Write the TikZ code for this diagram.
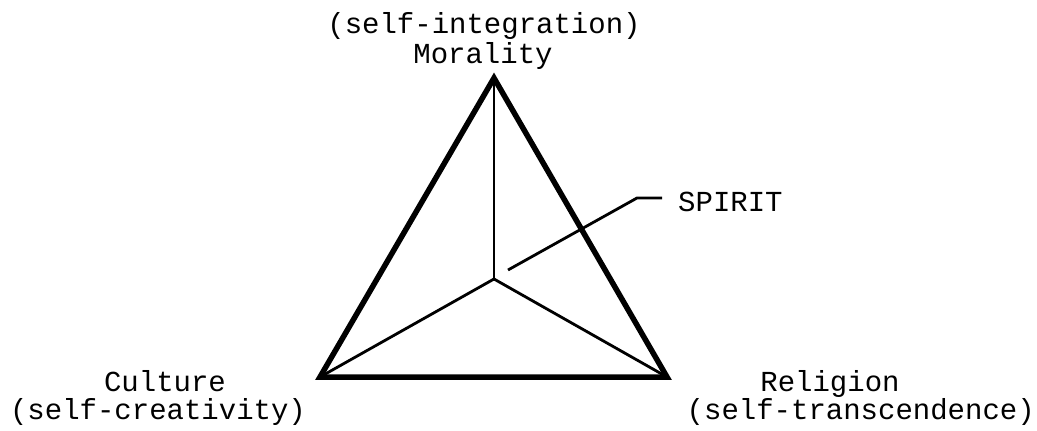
\documentclass[tikz,border=0pt]{standalone}
\usepackage{fontspec}
\setmainfont{Liberation Mono}
\tikzset{
  lbl/.style={inner sep=0pt, anchor=base, font=\fontsize{29}{31}\selectfont},
  edge/.style={line width=5.5pt, line join=miter, line cap=round},
  spoke/.style={line width=2.8pt},
}
\begin{document}
\begin{tikzpicture}[x=1pt,y=-1pt]
\useasboundingbox (0,0) rectangle (1037,431);
\coordinate (T) at (494,78);
\coordinate (L) at (320,377);
\coordinate (R) at (667,377);
\coordinate (C) at (494,279);
\draw[spoke] (C) -- (T);
\draw[spoke] (C) -- (L);
\draw[spoke] (C) -- (R);
\draw[edge] (T) -- (L) -- (R) -- cycle;
\coordinate (s0) at (508,270);
\coordinate (s1) at (637,198);
\coordinate (s2) at (662,198);
\draw[spoke, line join=round] (s0) -- (s1) -- (s2);
\node[lbl, anchor=base west] (spirit) at (678,211) {SPIRIT};
\node[lbl] (selfint) at (484,33) {(self-integration)};
\node[lbl] (moral) at (483,63) {Morality};
\node[lbl] (cult) at (165,391) {Culture};
\node[lbl] (selfcre) at (158,419) {(self-creativity)};
\node[lbl] (relig) at (830,391) {Religion};
\node[lbl, anchor=base east] (selftra) at (1035,419) {(self-transcendence)};
\end{tikzpicture}
\end{document}
